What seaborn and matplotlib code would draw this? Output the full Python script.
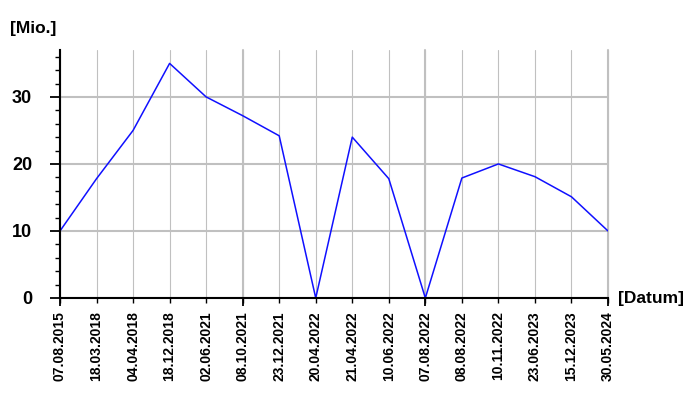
import numpy as np
import pandas as pd
import matplotlib
matplotlib.use("Agg")
import matplotlib.pyplot as plt
import seaborn as sns
from matplotlib.ticker import FixedLocator, MultipleLocator

dates = ["07.08.2015", "18.03.2018", "04.04.2018", "18.12.2018", "02.06.2021",
         "08.10.2021", "23.12.2021", "20.04.2022", "21.04.2022", "10.06.2022",
         "07.08.2022", "08.08.2022", "10.11.2022", "23.06.2023", "15.12.2023",
         "30.05.2024"]
values = [10, 17.8, 25, 35, 30, 27.2, 24.2, 0, 24, 17.8, 0, 17.9, 20, 18.1, 15.1, 10]
y_unit = "[Mio.]"
x_unit = "[Datum]"

sns.set_theme(style="white")
plt.rcParams['font.family'] = ['Liberation Sans', 'DejaVu Sans']
plt.rcParams['text.color'] = 'black'
plt.rcParams['xtick.color'] = 'black'
plt.rcParams['ytick.color'] = 'black'

df = pd.DataFrame({"pos": np.arange(len(dates)), "value": values})

fig = plt.figure(figsize=(7, 4), dpi=100)
ax = fig.add_axes([60/700, 102/400, 548/700, 248/400])

grid_c = "#c0c0c0"
sns.lineplot(data=df, x="pos", y="value", ax=ax, color="#1010ff", linewidth=1.1, zorder=3)

ax.set_xlim(0, len(dates) - 1)
ax.set_ylim(0, 37)

# x ticks
major_x = [i for i in range(len(dates)) if i % 5 == 0]
ax.xaxis.set_major_locator(FixedLocator(major_x))
ax.xaxis.set_minor_locator(FixedLocator(list(range(len(dates)))))
ax.xaxis.remove_overlapping_locs = False
ax.set_xticklabels([""] * len(major_x))
ax.set_xticklabels(dates, minor=True, rotation=90, fontsize=10, fontweight="bold", color="black")
ax.tick_params(axis="x", which="major", direction="out", length=6, width=1.3, color="black", bottom=True)
ax.tick_params(axis="x", which="minor", direction="out", length=3.6, width=1.0, color="black", bottom=True, pad=6)

# y ticks
ax.yaxis.set_major_locator(MultipleLocator(10))
ax.yaxis.set_minor_locator(MultipleLocator(2))
ax.tick_params(axis="y", which="major", direction="out", length=7, width=1.3, color="black", left=True,
               labelsize=13, pad=13, labelcolor="black")
ax.tick_params(axis="y", which="minor", direction="out", length=3.6, width=1.0, color="black", left=True)
for lab in ax.get_yticklabels():
    lab.set_fontweight("bold")

ax.grid(False)
ax.xaxis.grid(True, which="major", color=grid_c, linewidth=1.5)
ax.xaxis.grid(True, which="minor", color=grid_c, linewidth=0.8)
ax.yaxis.grid(True, which="major", color=grid_c, linewidth=1.5)
ax.set_axisbelow(True)
for t in ax.xaxis.get_major_ticks() + ax.xaxis.get_minor_ticks():
    t.gridline.set_clip_on(False)

for s in ["top", "right"]:
    ax.spines[s].set_visible(False)
for s in ["left", "bottom"]:
    ax.spines[s].set_color("black")
    ax.spines[s].set_linewidth(1.5)
    ax.spines[s].set_zorder(4)

ax.set_xlabel("")
ax.set_ylabel("")

fig.text(10/700, 1 - 29/400, y_unit, fontsize=12.5, fontweight="bold", ha="left", va="center", color="black")
fig.text(618/700, 1 - 298/400, x_unit, fontsize=12.5, fontweight="bold", ha="left", va="center", color="black")

fig.savefig("out.png", dpi=100)
